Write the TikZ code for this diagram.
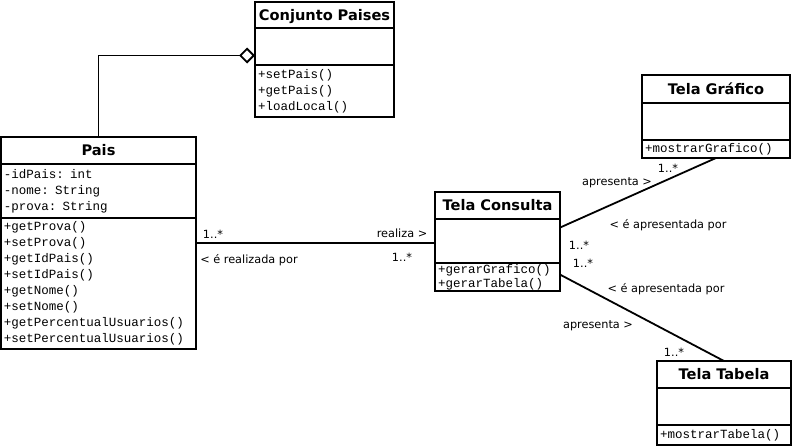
\documentclass[tikz,border=0pt]{standalone}
\usepackage{fontspec}
\setmainfont{DejaVu Sans}
\newfontfamily\umlmono{Liberation Mono}
\usetikzlibrary{positioning,fit,arrows.meta}
\tikzset{
  head/.style={draw, line width=1.8pt, outer sep=0pt, inner xsep=3pt, inner ysep=0pt,
    text width=#1, align=center, minimum height=27pt, text height=10.8pt, text depth=0pt,
    font=\bfseries\fontsize{14.6}{16}\selectfont},
  part/.style={draw, line width=1.8pt, outer sep=0pt, inner xsep=3pt, inner ysep=0pt,
    text width=#1, align=left, font=\umlmono\fontsize{12.5}{16}\selectfont},
  whole/.style={fit=#1, inner sep=0pt, outer sep=0pt},
  assoc/.style={line width=1.8pt},
  lbl/.style={inner sep=0pt, font=\fontsize{11.3}{13}\selectfont},
}
\begin{document}
\begin{tikzpicture}[x=1pt,y=-1pt]
  \useasboundingbox (0,0) rectangle (793,447);

  % Conjunto Paises
  \node[head=133pt, minimum height=26pt, anchor=north west] (conjT) at (255,2) {Conjunto Paises};
  \node[part=133pt, minimum height=37pt, below=0pt of conjT] (conjA) {};
  \node[part=133pt, minimum height=52pt, below=0pt of conjA] (conjM) {+setPais()\\+getPais()\\+loadLocal()};
  \node[whole={(conjT)(conjM)}] (conjunto) {};

  % Pais
  \node[head=189pt, anchor=north west] (paisT) at (1,137) {Pais};
  \node[part=189pt, minimum height=54pt, below=0pt of paisT] (paisA) {-idPais: int\\-nome: String\\-prova: String};
  \node[part=189pt, minimum height=131pt, below=0pt of paisA] (paisM) {+getProva()\\+setProva()\\+getIdPais()\\+setIdPais()\\+getNome()\\+setNome()\\+getPercentualUsuarios()\\+setPercentualUsuarios()};
  \node[whole={(paisT)(paisM)}] (pais) {};

  % Tela Consulta
  \node[head=119pt, anchor=north west] (consT) at (435,192) {Tela Consulta};
  \node[part=119pt, minimum height=44pt, below=0pt of consT] (consA) {};
  \node[part=119pt, minimum height=28pt, inner ysep=1pt, font=\umlmono\fontsize{12.5}{14.5}\selectfont, below=0pt of consA] (consM) {+gerarGrafico()\\+gerarTabela()};
  \node[whole={(consT)(consM)}] (consulta) {};

  % Tela Grafico
  \node[head=142pt, minimum height=28pt, anchor=north west] (grafT) at (642,75) {Tela Gráfico};
  \node[part=142pt, minimum height=37pt, below=0pt of grafT] (grafA) {};
  \node[part=142pt, minimum height=18pt, below=0pt of grafA] (grafM) {+mostrarGrafico()};
  \node[whole={(grafT)(grafM)}] (grafico) {};

  % Tela Tabela
  \node[head=128pt, anchor=north west] (tabT) at (657,361) {Tela Tabela};
  \node[part=128pt, minimum height=37pt, below=0pt of tabT] (tabA) {};
  \node[part=128pt, minimum height=20pt, below=0pt of tabA] (tabM) {+mostrarTabela()};
  \node[whole={(tabT)(tabM)}] (tabela) {};

  % ligacoes
  \draw[assoc, -{Diamond[open, length=16pt, width=16pt]}] (pais.north) |- ([yshift=4pt]conjunto.west);
  \draw[assoc] (pais.east) -- (pais.east -| consulta.west);
  \draw[assoc] ([yshift=14pt]consulta.east) -- (grafico.south);
  \draw[assoc] ([yshift=-33pt]consulta.east) -- (tabela.north);

  % rotulos
  \node[lbl] at (213,234) {1..*};
  \node[lbl] at (249,260) {< é realizada por};
  \node[lbl] at (402,233) {realiza >};
  \node[lbl] at (402,257) {1..*};
  \node[lbl] at (668,168) {1..*};
  \node[lbl] at (617,183) {apresenta >};
  \node[lbl] at (668,225) {< é apresentada por};
  \node[lbl] at (579,245) {1..*};
  \node[lbl] at (583,263) {1..*};
  \node[lbl] at (666,289) {< é apresentada por};
  \node[lbl] at (598,326) {apresenta >};
  \node[lbl] at (674,352) {1..*};
\end{tikzpicture}
\end{document}
